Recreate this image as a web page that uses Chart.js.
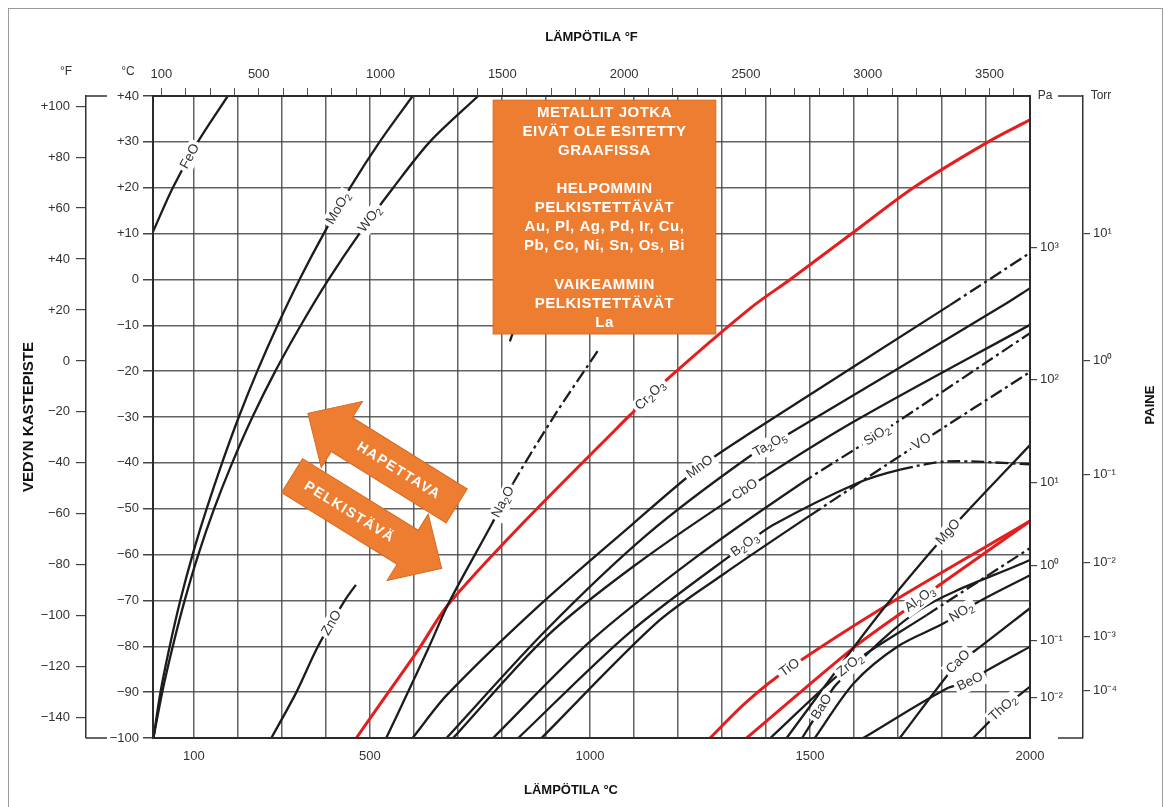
<!DOCTYPE html>
<html lang="fi">
<head>
<meta charset="utf-8">
<title>Metallioksidien pelkistyminen vedyssä</title>
<script src="https://cdn.jsdelivr.net/npm/chart.js@4/dist/chart.umd.min.js"></script>
<style>
  html, body { margin: 0; padding: 0; background: #fff; }
  canvas { display: block; }
</style>
</head>
<body>
<canvas id="chart" width="1171" height="807"></canvas>
<script>
/*************** axis limits and ticks ***************/
const tempMin = 7, tempMax = 2000;        // lämpötila °C
const dewMin = -100, dewMax = 40;         // kastepiste °C
const fahrMin = 66, fahrMax = 3666;       // yläasteikko °F
const dewMinF = -148, dewMaxF = 104;      // kastepiste °F

const tempGrid = [100, 200, 300, 400, 500, 600, 700, 800, 900, 1000,
                  1100, 1200, 1300, 1400, 1500, 1600, 1700, 1800, 1900, 2000];
const tempLabels = [100, 500, 1000, 1500, 2000];
const fahrTicks = [100, 200, 300, 400, 500, 600, 700, 800, 900, 1000, 1100, 1200,
                   1300, 1400, 1500, 1600, 1700, 1800, 1900, 2000, 2100, 2200, 2300, 2400,
                   2500, 2600, 2700, 2800, 2900, 3000, 3100, 3200, 3300, 3400, 3500, 3600];
const fahrLabels = [100, 500, 1000, 1500, 2000, 2500, 3000, 3500];
const dewTicksC = [40, 30, 20, 10, 0, -10, -20, -30, -40, -50, -60, -70, -80, -90, -100];
const dewTicksF = [100, 80, 60, 40, 20, 0, -20, -40, -60, -80, -100, -120, -140];

// pressure scales: dew point (°C) where each decade sits
const paDew = [6.9, -21.9, -44.2, -62.3, -78.7, -91.1];
const paLabels = ['10³', '10²', '10¹', '10⁰', '10⁻¹', '10⁻²'];
const torrDew = [10.1, -17.6, -42.6, -61.8, -77.9, -89.7];
const torrLabels = ['10¹', '10⁰', '10⁻¹', '10⁻²', '10⁻³', '10⁻⁴'];

/*************** equilibrium curves [°C, dew point °C] ***************/
const FeO   = [[7, 10.4], [52, 20], [109, 30], [177, 40]];
const MoO2  = [[8, -100], [24, -90], [45, -80], [69, -70], [97, -60], [129, -50], [164, -40], [202, -30],
               [244, -20], [290, -10], [340, 0], [395, 10], [455, 20], [522, 30], [597, 40]];
const WO2   = [[8, -100], [28, -90], [52, -80], [79, -70], [110, -60], [146, -50], [187, -40], [233, -30],
               [285, -20], [343, -10], [406, 0], [476, 10], [553, 20], [636, 30], [746, 40]];
const ZnO   = [[276, -100], [333, -90], [382, -80], [443, -70], [468, -66.6]];
const Na2O  = [[537, -100], [583, -90.7], [632, -80.6], [681, -70.2], [776, -53.5], [825, -44.5],
               [920, -29.6], [1019, -15.4]];
const underBox = [[818, -13.5], [845, -6]];   // curve running on behind the note box
const Cr2O3 = [[469, -100], [537, -90.7], [611, -80.6], [677, -71], [844, -53.5], [1091, -29.6],
               [1174, -21.9], [1364, -6.3], [1455, 0], [1595, 10], [1735, 20], [1905, 30], [2000, 34.8]];
const MnO   = [[597, -100], [675, -90.6], [880, -71.5], [1095, -53.5], [1250, -40.9], [1364, -33.5],
               [1818, -5.6], [2000, 5.8]];
const Ta2O5 = [[674, -100], [900, -76.5], [1129, -55.7], [1364, -38.5], [1455, -33.5], [1940, -5.6], [2000, -1.9]];
const CbO   = [[689, -100], [900, -78], [1100, -62.5], [1350, -46], [1600, -31], [2000, -9.9]];
const SiO2  = [[780, -100], [1000, -79], [1235, -61], [1480, -44.5], [1652, -34], [2000, -11.7]];
const VO    = [[890, -100], [1150, -75], [1300, -64.5], [1500, -51.5], [1754, -35.4], [2000, -20.2]];
const B2O3  = [[837, -100], [1090, -77], [1352, -57.9], [1417, -53.5], [1606, -44.5], [1705, -41.5],
               [1811, -39.7], [2000, -40.3]];
const MgO   = [[1447, -100], [1598, -80.4], [1677, -70.6], [1814, -55.1], [2000, -36.1]];
const TiO   = [[1273, -100], [1356, -92.1], [1454, -84.7], [1682, -70.6], [2000, -52.7]];
const Al2O3 = [[1356, -100], [1598, -80.4], [1712, -72.4], [1795, -66.6], [2000, -52.7]];
const ZrO2  = [[1410, -100], [1591, -84.1], [1765, -73.2], [2000, -58.6]];
const BaO   = [[1482, -100], [1527, -93.2], [1561, -88.2], [1750, -72], [2000, -61.2]];
const NO2   = [[1511, -100], [1600, -88], [1700, -80], [1804, -75], [1879, -70.5], [2000, -64.5]];
const CaO   = [[1704, -100], [1837, -83.4], [1872, -81.2], [2000, -71.7]];
const BeO   = [[1621, -100], [1811, -89.2], [1864, -87.7], [1898, -85.5], [2000, -80.1]];
const ThO2  = [[1871, -100], [1939, -93.5], [2000, -88.8]];

const ink = '#1c1c1c';
const red = '#e41e1e';
const orange = '#ed7d31';
const dashDot = [13, 4, 3, 4];

// name, points, colour, dash-dot from this temperature on, label position (°C)
const curves = [
  { name: 'FeO',   pts: FeO,   color: ink, label: 91 },
  { name: 'MoO2',  pts: MoO2,  color: ink, label: 428 },
  { name: 'WO2',   pts: WO2,   color: ink, label: 500 },
  { name: 'ZnO',   pts: ZnO,   color: ink, label: 413 },
  { name: 'Na2O',  pts: Na2O,  color: ink, dash: 825, label: 803 },
  { name: '',      pts: underBox, color: ink },
  { name: 'MnO',   pts: MnO,   color: ink, dash: 1818, label: 1250 },
  { name: 'Ta2O5', pts: Ta2O5, color: ink, label: 1409 },
  { name: 'CbO',   pts: CbO,   color: ink, label: 1352 },
  { name: 'SiO2',  pts: SiO2,  color: ink, dash: 1480, label: 1652 },
  { name: 'VO',    pts: VO,    color: ink, dash: 1500, label: 1754 },
  { name: 'B2O3',  pts: B2O3,  color: ink, dash: 1705, label: 1352 },
  { name: 'MgO',   pts: MgO,   color: ink, label: 1814 },
  { name: 'ZrO2',  pts: ZrO2,  color: ink, dash: 1765, label: 1591 },
  { name: 'BaO',   pts: BaO,   color: ink, label: 1527 },
  { name: 'NO2',   pts: NO2,   color: ink, label: 1844 },
  { name: 'CaO',   pts: CaO,   color: ink, label: 1837 },
  { name: 'BeO',   pts: BeO,   color: ink, label: 1864 },
  { name: 'ThO2',  pts: ThO2,  color: ink, label: 1939 },
  { name: 'Cr2O3', pts: Cr2O3, color: red, label: 1137 },
  { name: 'TiO',   pts: TiO,   color: red, label: 1454 },
  { name: 'Al2O3', pts: Al2O3, color: red, label: 1750 },
];

/*************** notes on the plot ***************/
const noteBox = { t0: 780, t1: 1286, d0: 39.1, d1: -11.9 };
const noteLines = ['METALLIT JOTKA', 'EIVÄT OLE ESITETTY', 'GRAAFISSA', '',
                   'HELPOMMIN', 'PELKISTETTÄVÄT', 'Au, Pl, Ag, Pd, Ir, Cu,', 'Pb, Co, Ni, Sn, Os, Bi', '',
                   'VAIKEAMMIN', 'PELKISTETTÄVÄT', 'La'];
const arrows = [
  { text: 'HAPETTAVA',  from: [697, -49.4], to: [359, -29.2] },
  { text: 'PELKISTÄVÄ', from: [323, -42.8], to: [663, -63] },
];

const font = "'Liberation Sans', Arial, sans-serif";
Chart.defaults.font.family = font;
Chart.defaults.color = '#333';

const signed = v => v > 0 ? '+' + v : v < 0 ? '−' + Math.abs(v) : '0';
const gridColor = 'rgba(70,70,70,0.85)';

function dewAt(pts, t) {
  for (let i = 1; i < pts.length; i++) {
    if (t <= pts[i][0]) {
      const [t0, d0] = pts[i - 1], [t1, d1] = pts[i];
      return d0 + (d1 - d0) * (t - t0) / (t1 - t0);
    }
  }
  return pts[pts.length - 1][1];
}

// formula label, digits as subscripts, on a white patch over the curve
function drawFormula(ctx, text, px, py, angle) {
  const parts = text.split(/(\d+)/).filter(Boolean);
  const big = '13.5px ' + font, small = '10px ' + font;
  ctx.save();
  ctx.translate(px, py);
  ctx.rotate(angle);
  let w = 0;
  parts.forEach(p => { ctx.font = /\d/.test(p) ? small : big; w += ctx.measureText(p).width; });
  ctx.fillStyle = '#fff';
  ctx.fillRect(-w / 2 - 3, -8, w + 6, 17);
  ctx.fillStyle = '#333';
  ctx.textBaseline = 'middle';
  ctx.textAlign = 'left';
  let cx = -w / 2;
  parts.forEach(p => {
    const sub = /\d/.test(p);
    ctx.font = sub ? small : big;
    ctx.fillText(p, cx, sub ? 4 : 0);
    cx += ctx.measureText(p).width;
  });
  ctx.restore();
}

function drawArrow(ctx, xs, ys, ar) {
  const x0 = xs.getPixelForValue(ar.from[0]), y0 = ys.getPixelForValue(ar.from[1]);
  const x1 = xs.getPixelForValue(ar.to[0]), y1 = ys.getPixelForValue(ar.to[1]);
  const len = Math.hypot(x1 - x0, y1 - y0);
  const ang = Math.atan2(y1 - y0, x1 - x0);
  const shaft = 20, head = 39, headLen = 40;
  ctx.save();
  ctx.translate(x0, y0);
  ctx.rotate(ang);
  ctx.beginPath();
  ctx.moveTo(0, -shaft);
  ctx.lineTo(len - headLen, -shaft);
  ctx.lineTo(len - headLen, -head);
  ctx.lineTo(len, 0);
  ctx.lineTo(len - headLen, head);
  ctx.lineTo(len - headLen, shaft);
  ctx.lineTo(0, shaft);
  ctx.closePath();
  ctx.fillStyle = orange;
  ctx.fill();
  ctx.strokeStyle = '#d86a22';
  ctx.lineWidth = 1;
  ctx.stroke();
  // text reads left to right whichever way the arrow points
  ctx.translate((len - headLen) / 2, 0);
  if (Math.abs(ang) > Math.PI / 2) ctx.rotate(Math.PI);
  ctx.fillStyle = '#fff';
  ctx.font = 'bold 14px ' + font;
  ctx.letterSpacing = '1.5px';
  ctx.textAlign = 'center';
  ctx.textBaseline = 'middle';
  ctx.fillText(ar.text, 0, 1);
  ctx.restore();
}

const decor = {
  id: 'decor',
  afterDatasetsDraw(chart) {
    const { ctx, chartArea: a } = chart;
    const xs = chart.scales.x, ys = chart.scales.y;

    ctx.save();
    ctx.strokeStyle = '#2b2b2b';
    ctx.lineWidth = 2;
    ctx.strokeRect(a.left, a.top, a.right - a.left, a.bottom - a.top);
    ctx.restore();

    curves.filter(c => c.name).forEach(c => {
      const t = c.label;
      const px = xs.getPixelForValue(t), py = ys.getPixelForValue(dewAt(c.pts, t));
      const xa = xs.getPixelForValue(t - 15), ya = ys.getPixelForValue(dewAt(c.pts, t - 15));
      const xb = xs.getPixelForValue(t + 15), yb = ys.getPixelForValue(dewAt(c.pts, t + 15));
      drawFormula(ctx, c.name, px, py, Math.atan2(yb - ya, xb - xa));
    });

    // orange note box
    const bx0 = xs.getPixelForValue(noteBox.t0), bx1 = xs.getPixelForValue(noteBox.t1);
    const by0 = ys.getPixelForValue(noteBox.d0), by1 = ys.getPixelForValue(noteBox.d1);
    ctx.save();
    ctx.fillStyle = orange;
    ctx.fillRect(bx0, by0, bx1 - bx0, by1 - by0);
    ctx.strokeStyle = '#d86a22';
    ctx.strokeRect(bx0, by0, bx1 - bx0, by1 - by0);
    ctx.fillStyle = '#fff';
    ctx.font = 'bold 15px ' + font;
    ctx.letterSpacing = '0.5px';
    ctx.textAlign = 'center';
    ctx.textBaseline = 'middle';
    noteLines.forEach((s, i) => ctx.fillText(s, (bx0 + bx1) / 2, by0 + 12.5 + i * 19.1));
    ctx.restore();

    arrows.forEach(ar => drawArrow(ctx, xs, ys, ar));
  },
  afterDraw(chart) {
    const { ctx, chartArea: a } = chart;
    const fL = chart.scales.yF.right, tL = chart.scales.torr.left;
    ctx.save();
    ctx.strokeStyle = '#333';
    ctx.lineWidth = 1.5;
    ctx.beginPath();
    // brackets closing the °F and Torr scales
    ctx.moveTo(fL, a.top); ctx.lineTo(fL + 21, a.top);
    ctx.moveTo(fL, a.bottom); ctx.lineTo(fL + 21, a.bottom);
    ctx.moveTo(tL - 25, a.top); ctx.lineTo(tL, a.top);
    ctx.moveTo(tL - 25, a.bottom); ctx.lineTo(tL, a.bottom);
    ctx.stroke();

    ctx.fillStyle = '#333';
    ctx.font = '12px ' + font;
    ctx.textAlign = 'center';
    ctx.textBaseline = 'middle';
    ctx.fillText('°F', 66, 72);
    ctx.fillText('°C', 128, 72);
    ctx.fillText('Pa', 1045, a.top);
    ctx.fillText('Torr', 1101, a.top);

    ctx.fillStyle = '#111';
    ctx.font = 'bold 13px ' + font;
    ctx.fillText('LÄMPÖTILA °C', 571, 790);
    ctx.translate(1150, 405);
    ctx.rotate(-Math.PI / 2);
    ctx.fillText('PAINE', 0, 0);
    ctx.restore();

    // thin frame round the figure
    ctx.save();
    ctx.strokeStyle = '#9a9a9a';
    ctx.lineWidth = 1;
    ctx.strokeRect(8.5, 8.5, 1154, 830);
    ctx.restore();
  }
};

const datasets = curves.map(c => ({
  label: c.name,
  data: c.pts.map(p => ({ x: p[0], y: p[1] })),
  borderColor: c.color,
  borderWidth: c.color === red ? 3 : 2.3,
  pointRadius: 0,
  fill: false,
  tension: 0.3,
  xAxisID: 'x',
  yAxisID: 'y',
  segment: c.dash ? { borderDash: ctx => ctx.p0.parsed.x >= c.dash ? dashDot : undefined } : undefined,
}));

const tickFont = { size: 13 };

new Chart(document.getElementById('chart'), {
  type: 'line',
  data: { datasets },
  options: {
    responsive: false,
    animation: false,
    events: [],
    layout: { padding: 0 },
    plugins: { legend: { display: false }, tooltip: { enabled: false } },
    scales: {
      x: {
        type: 'linear', position: 'bottom', min: tempMin, max: tempMax,
        afterBuildTicks: s => { s.ticks = tempGrid.map(v => ({ value: v })); },
        afterFit: s => { s.height = 69; },
        grid: { color: gridColor, lineWidth: 1.5, drawTicks: false },
        border: { display: false },
        ticks: { autoSkip: false, maxRotation: 0, padding: 11, font: tickFont,
                 callback: v => tempLabels.includes(v) ? String(v) : '' }
      },
      xF: {
        type: 'linear', position: 'top', min: fahrMin, max: fahrMax,
        afterBuildTicks: s => { s.ticks = fahrTicks.map(v => ({ value: v })); },
        afterFit: s => { s.height = 96; },
        grid: { drawOnChartArea: false, tickLength: 8, color: '#555', lineWidth: 1 },
        border: { display: false },
        ticks: { autoSkip: false, maxRotation: 0, padding: 6, font: tickFont,
                 callback: v => fahrLabels.includes(v) ? String(v) : '' },
        title: { display: true, text: 'LÄMPÖTILA °F', color: '#111',
                 font: { size: 13, weight: 'bold' }, padding: { top: 30 } }
      },
      y: {
        type: 'linear', position: 'left', weight: 0, min: dewMin, max: dewMax,
        afterBuildTicks: s => { s.ticks = dewTicksC.map(v => ({ value: v })); },
        afterFit: s => { s.width = 67; },
        grid: { color: gridColor, lineWidth: 1.5, tickLength: 10, tickColor: '#444' },
        border: { display: false },
        ticks: { padding: 4, font: tickFont, callback: signed }
      },
      yF: {
        type: 'linear', position: 'left', weight: 1, min: dewMinF, max: dewMaxF,
        afterBuildTicks: s => { s.ticks = dewTicksF.map(v => ({ value: v })); },
        afterFit: s => { s.width = 86; },
        grid: { drawOnChartArea: false, tickLength: 10, color: '#444', lineWidth: 1.2 },
        border: { display: true, color: '#333', width: 1.5 },
        ticks: { padding: 6, font: tickFont, callback: signed },
        title: { display: true, text: 'VEDYN KASTEPISTE', color: '#111',
                 font: { size: 15, weight: 'bold' }, padding: { top: 20 } }
      },
      pa: {
        type: 'linear', position: 'right', weight: 0, min: dewMin, max: dewMax,
        afterBuildTicks: s => { s.ticks = paDew.map(v => ({ value: v })); },
        afterFit: s => { s.width = 53; },
        grid: { drawOnChartArea: false, tickLength: 7, color: '#444', lineWidth: 1.2 },
        border: { display: false },
        ticks: { padding: 3, font: tickFont, callback: (v, i) => paLabels[i] }
      },
      torr: {
        type: 'linear', position: 'right', weight: 1, min: dewMin, max: dewMax,
        afterBuildTicks: s => { s.ticks = torrDew.map(v => ({ value: v })); },
        afterFit: s => { s.width = 88; },
        grid: { drawOnChartArea: false, tickLength: 7, color: '#444', lineWidth: 1.2 },
        border: { display: true, color: '#333', width: 1.5 },
        ticks: { padding: 3, font: tickFont, callback: (v, i) => torrLabels[i] }
      }
    }
  },
  plugins: [decor]
});
</script>
</body>
</html>
